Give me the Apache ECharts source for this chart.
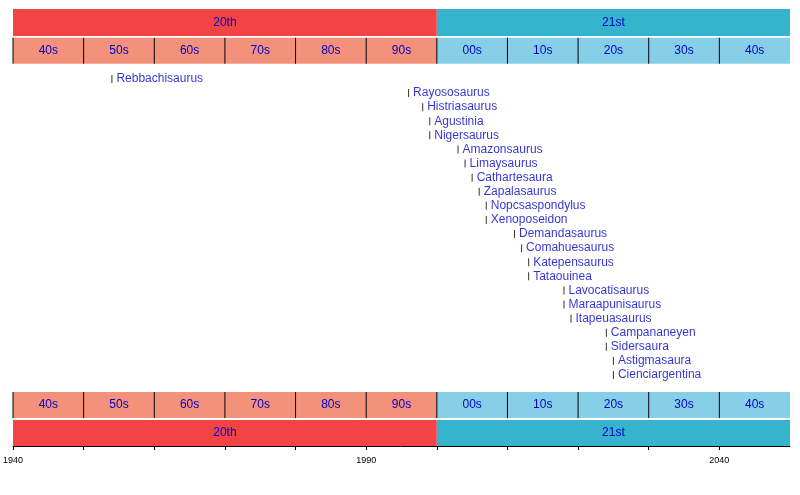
<!DOCTYPE html>
<html><head><meta charset="utf-8">
<script src="https://cdn.jsdelivr.net/npm/echarts@6/dist/echarts.min.js"></script>
<style>html,body{margin:0;padding:0;background:#fff}#c{width:800px;height:495px}</style>
</head><body><div id="c"></div>
<script>
const names = ["Rebbachisaurus","Rayososaurus","Histriasaurus","Agustinia","Nigersaurus","Amazonsaurus","Limaysaurus","Cathartesaura","Zapalasaurus","Nopcsaspondylus","Xenoposeidon","Demandasaurus","Comahuesaurus","Katepensaurus","Tataouinea","Lavocatisaurus","Maraapunisaurus","Itapeuasaurus","Campananeyen","Sidersaura","Astigmasaura","Cienciargentina"];
const years = [1954,1996,1998,1999,1999,2003,2004,2005,2006,2007,2007,2011,2012,2013,2013,2018,2018,2019,2024,2024,2025,2025];
const centuries = [["20th",1940,2000],["21st",2000,2050]];
const decades = ["40s","50s","60s","70s","80s","90s","00s","10s","20s","30s","40s"];
const decadeStarts = [1940,1950,1960,1970,1980,1990,2000,2010,2020,2030,2040];
const tickLabels = [1940,1990,2040];

const YMIN = -4.96, YMAX = 26.03;
const bandRows = {centTop:[-4.96,-3.05], decTop:[-2.92,-1.08], decBot:[22.2,24.05], centBot:[24.19,26.03]};

const bandData = [];
centuries.forEach(c=>{
  const col = c[1] < 2000 ? '#f24444' : '#36b3cd';
  bandData.push([c[1],c[2],...bandRows.centTop,c[0],col,0]);
  bandData.push([c[1],c[2],...bandRows.centBot,c[0],col,0]);
});
decades.forEach((d,i)=>{
  const s = decadeStarts[i], col = s < 2000 ? '#f4917a' : '#87cfe9';
  bandData.push([s,s+10,...bandRows.decTop,d,col,1]);
  bandData.push([s,s+10,...bandRows.decBot,d,col,1]);
});

const chart = echarts.init(document.getElementById('c'));
chart.setOption({
  animation:false,
  grid:{left:10,right:10,top:9,bottom:49},
  xAxis:{type:'value',min:1940,max:2050,interval:10,position:'bottom',
    axisLine:{onZero:false,lineStyle:{color:'#000'}},axisTick:{length:4,lineStyle:{color:'#000'}},
    splitLine:{show:false},
    axisLabel:{fontSize:9,color:'#000',fontFamily:'Liberation Sans',margin:10,
      formatter:v=>tickLabels.includes(v)?String(v):'',showMaxLabel:false}},
  yAxis:{type:'value',min:YMIN,max:YMAX,inverse:true,show:false},
  series:[
    {type:'custom',data:bandData,renderItem:(p,api)=>{
      const a=api.coord([api.value(0),api.value(2)]),b=api.coord([api.value(1),api.value(3)]);
      const d=bandData[p.dataIndex];
      const rect={type:'rect',shape:{x:a[0],y:a[1],width:b[0]-a[0],height:b[1]-a[1]},
        style:{fill:d[5],text:d[4],textFill:'#0000c8',fontSize:12,fontFamily:'Liberation Sans'}};
      if(!d[6]) return rect;
      return {type:'group',children:[rect,
        {type:'line',shape:{x1:a[0],y1:a[1],x2:a[0],y2:b[1]},style:{stroke:'#000',lineWidth:1}}]};
    }},
    {type:'scatter',symbol:'rect',symbolSize:[1,8],itemStyle:{color:'#000'},
     data:names.map((n,i)=>({value:[years[i],i],name:n})),
     label:{show:true,position:'right',distance:4,formatter:p=>p.name,
       color:'#0000c8',fontSize:12,fontFamily:'Liberation Sans'}}
  ]
});
</script></body></html>
